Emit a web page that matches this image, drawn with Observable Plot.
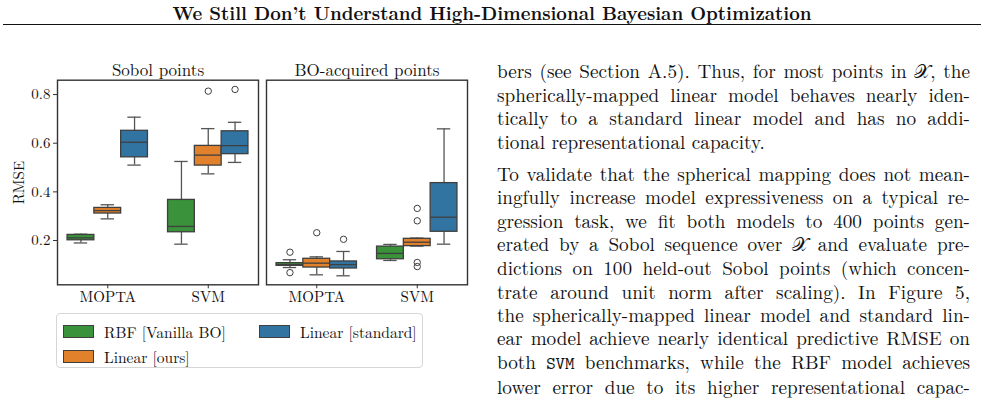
<!DOCTYPE html>
<html><head><meta charset="utf-8">
<script src="https://cdn.jsdelivr.net/npm/d3@7"></script>
<script src="https://cdn.jsdelivr.net/npm/@observablehq/plot@0.6"></script>
<style>
body{margin:0;background:#fff;width:984px;height:407px;overflow:hidden;position:relative;color:#111}
#header{position:absolute;left:0;width:984px;top:2px;text-align:center;font-weight:bold;font-size:18.4px;line-height:21px}
#rule{position:absolute;left:3px;width:978px;top:24px;height:0;border-top:1.4px solid #111}
#chart{position:absolute;left:0;top:50px}
#legend{position:absolute;left:56px;top:313px;width:367px;height:55px;border:1px solid #d6d6d6;border-radius:4px;box-sizing:border-box;font-size:15.5px}
.item{position:absolute;display:flex;align-items:center;white-space:nowrap}
.sw{width:31px;height:13px;border:1px solid #3f3f3f;margin-right:10px;box-sizing:border-box}
#text{position:absolute;left:497px;top:58.5px;width:473px;font-size:19.2px;line-height:23.35px;word-spacing:-1px}
#text p{margin:0 0 9.2px 0}
.l{text-align:justify;text-align-last:justify}
.end{text-align:left;text-align-last:left;word-spacing:0}
.tt{font-size:18px}
</style>
</head><body>
<div id="header"></div>
<div id="rule"></div>
<div id="chart"></div>
<div id="legend"></div>
<div id="text"></div>
<script>
const serifFont = "'Latin Modern Roman', 'Liberation Serif', serif";
const monoFont = "'Latin Modern Mono', 'Liberation Mono', monospace";
const calFont = "'DejaVu Sans', 'Noto Sans', serif";

const headerText = "We Still Don\u2019t Understand High-Dimensional Bayesian Optimization";
const panels = ["Sobol points", "BO-acquired points"];
const categories = ["MOPTA", "SVM"];
const models = ["RBF [Vanilla BO]", "Linear [ours]", "Linear [standard]"];
const colors = ["#3a923a", "#e1812c", "#3274a1"];
const yTicks = [0.2, 0.4, 0.6, 0.8];
const yLabel = "RMSE";

// order: panel -> category -> model
const whiskerLow  = [0.190, 0.289, 0.510,  0.185, 0.474, 0.521,  0.089, 0.059, 0.055,  0.118, 0.177, 0.185];
const q1          = [0.201, 0.311, 0.542,  0.234, 0.508, 0.555,  0.096, 0.089, 0.085,  0.123, 0.177, 0.236];
const median      = [0.211, 0.323, 0.604,  0.258, 0.551, 0.590,  0.101, 0.107, 0.101,  0.147, 0.193, 0.296];
const q3          = [0.223, 0.334, 0.651,  0.367, 0.589, 0.649,  0.107, 0.125, 0.114,  0.175, 0.207, 0.436];
const whiskerHigh = [0.226, 0.347, 0.707,  0.525, 0.660, 0.686,  0.121, 0.133, 0.155,  0.184, 0.210, 0.659];

const outlierPanel    = [0, 0, 1, 1, 1, 1, 1, 1, 1, 1];
const outlierCategory = [1, 1, 0, 0, 0, 0, 1, 1, 1, 1];
const outlierModel    = [1, 2, 0, 0, 1, 2, 1, 1, 1, 1];
const outlierValue    = [0.814, 0.821, 0.152, 0.068, 0.232, 0.205, 0.332, 0.281, 0.110, 0.093];

const para1 = [
  "bers (see Section A.5). Thus, for most points in <span class='cal'>\u{1D4B3}</span>, the",
  "spherically-mapped linear model behaves nearly iden-",
  "tically to a standard linear model and has no addi-",
  "tional representational capacity."
];
const para2 = [
  "To validate that the spherical mapping does not mean-",
  "ingfully increase model expressiveness on a typical re-",
  "gression task, we fit both models to 400 points gen-",
  "erated by a Sobol sequence over <span class='cal'>\u{1D4B3}</span> and evaluate pre-",
  "dictions on 100 held-out Sobol points (which concen-",
  "trate around unit norm after scaling). In Figure 5,",
  "the spherically-mapped linear model and standard lin-",
  "ear model achieve nearly identical predictive RMSE on",
  "both <span class='tt'>SVM</span> benchmarks, while the RBF model achieves",
  "lower error due to its higher representational capac-"
];

document.body.style.fontFamily = serifFont;
const header = document.getElementById("header");
header.textContent = headerText;
header.style.fontFamily = serifFont;
const textDiv = document.getElementById("text");
textDiv.style.fontFamily = serifFont;
for (const para of [para1, para2]) {
  const p = document.createElement("p");
  para.forEach((line, i) => {
    const d = document.createElement("div");
    const isEnd = para === para1 && i === para.length - 1;
    d.className = "l" + (isEnd ? " end" : "");
    d.innerHTML = line;
    p.appendChild(d);
  });
  textDiv.appendChild(p);
}
textDiv.querySelectorAll(".tt").forEach(e => e.style.fontFamily = monoFont);
textDiv.querySelectorAll(".cal").forEach(e => e.style.fontFamily = calFont);

const bw = 0.8 / models.length;
const boxes = [];
let k = 0;
panels.forEach(p => categories.forEach((c, ci) => models.forEach((m, mi) => {
  const xc = ci + (mi - 1) * bw;
  boxes.push({panel: p, model: m, xc, b1: xc - bw / 2, b2: xc + bw / 2, c1: xc - bw / 4, c2: xc + bw / 4,
    lo: whiskerLow[k], q1: q1[k], med: median[k], q3: q3[k], hi: whiskerHigh[k]});
  k++;
})));
const outliers = outlierValue.map((v, i) => ({
  panel: panels[outlierPanel[i]],
  x: outlierCategory[i] + (outlierModel[i] - 1) * bw,
  y: v
}));

const lineColor = "#3f3f3f";
const chart = Plot.plot({
  width: 480, height: 260,
  marginLeft: 57, marginRight: 13, marginTop: 29.7, marginBottom: 25.7,
  style: {fontFamily: serifFont, fontSize: "15px", color: "#111", background: "transparent"},
  fx: {domain: panels, paddingInner: 0.0383, paddingOuter: 0, label: null},
  x: {domain: [-0.5, 1.5]},
  y: {domain: [0.018, 0.859]},
  color: {domain: models, range: colors},
  marks: [
    Plot.axisFx({anchor: "top", tickSize: 0, tickPadding: 4, fontSize: 17, label: null}),
    Plot.axisX({ticks: [0, 1], tickFormat: i => categories[i], tickSize: 4, tickPadding: 3, label: null, stroke: "#333"}),
    Plot.axisY({ticks: yTicks, tickFormat: d3.format(".1f"), tickSize: 4, tickPadding: 3, stroke: "#333",
      label: yLabel, labelAnchor: "center", labelArrow: "none", labelOffset: 44}),
    Plot.ruleX(boxes, {fx: "panel", x: "xc", y1: "lo", y2: "q1", stroke: "#555", strokeWidth: 1.3}),
    Plot.ruleX(boxes, {fx: "panel", x: "xc", y1: "q3", y2: "hi", stroke: "#555", strokeWidth: 1.3}),
    Plot.ruleY(boxes, {fx: "panel", y: "lo", x1: "c1", x2: "c2", stroke: "#555", strokeWidth: 1.3}),
    Plot.ruleY(boxes, {fx: "panel", y: "hi", x1: "c1", x2: "c2", stroke: "#555", strokeWidth: 1.3}),
    Plot.rect(boxes, {fx: "panel", x1: "b1", x2: "b2", y1: "q1", y2: "q3", fill: "model", stroke: lineColor, strokeWidth: 1.3}),
    Plot.ruleY(boxes, {fx: "panel", y: "med", x1: "b1", x2: "b2", stroke: lineColor, strokeWidth: 1.3}),
    Plot.dot(outliers, {fx: "panel", x: "x", y: "y", r: 3.2, stroke: lineColor, strokeWidth: 1, fill: "none"}),
    Plot.frame({stroke: "#333", strokeWidth: 1.4})
  ]
});
document.getElementById("chart").appendChild(chart);

// legend
const legend = document.getElementById("legend");
legend.style.fontFamily = serifFont;
const pos = [[6, 7], [6, 32], [202, 7]];
models.forEach((m, i) => {
  const it = document.createElement("div");
  it.className = "item";
  it.style.left = pos[i][0] + "px";
  it.style.top = pos[i][1] + "px";
  it.innerHTML = `<span class="sw" style="background:${colors[i]}"></span><span>${m}</span>`;
  legend.appendChild(it);
});
</script>
</body></html>
